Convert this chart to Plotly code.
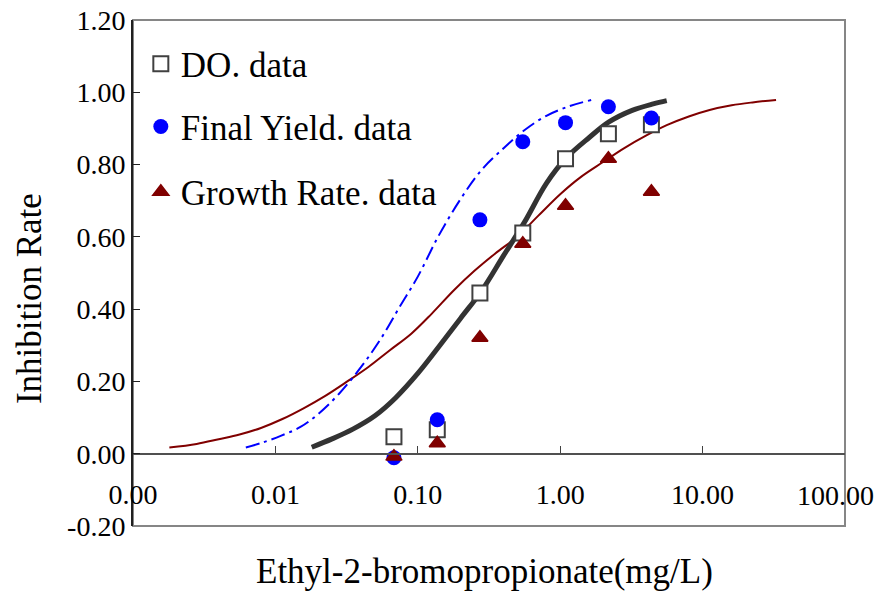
import plotly.graph_objects as go

# ---- data ----
conc = [0.068, 0.137, 0.273, 0.546, 1.09, 2.18, 4.37]
do_data = [0.047, 0.066, 0.445, 0.611, 0.816, 0.885, 0.910]
yield_data = [-0.011, 0.094, 0.647, 0.863, 0.916, 0.960, 0.929]
growth_data = [-0.008, 0.029, 0.321, 0.581, 0.686, 0.816, 0.725]

do_fit_x = [0.018, 0.025, 0.035, 0.05, 0.07, 0.1, 0.14, 0.2, 0.28, 0.4, 0.56, 0.8,
            1.1, 1.6, 2.2, 3.2, 4.5, 5.6]
do_fit_y = [0.018, 0.041, 0.068, 0.105, 0.155, 0.222, 0.295, 0.375, 0.45, 0.548, 0.64, 0.748,
            0.818, 0.875, 0.918, 0.95, 0.968, 0.977]

yield_fit_x = [0.0062, 0.008, 0.011, 0.015, 0.02, 0.028, 0.04, 0.055, 0.075, 0.1, 0.14,
               0.2, 0.28, 0.4, 0.56, 0.8, 1.15, 1.67]
yield_fit_y = [0.017, 0.03, 0.05, 0.074, 0.11, 0.166, 0.24, 0.318, 0.408, 0.49, 0.603,
               0.705, 0.785, 0.845, 0.895, 0.935, 0.961, 0.979]

growth_fit_x = [0.0018, 0.0028, 0.004, 0.0056, 0.008, 0.0112, 0.016, 0.0224, 0.032, 0.045,
                0.063, 0.09, 0.125, 0.18, 0.25, 0.35, 0.5, 0.7, 1.0, 1.4, 2.0, 2.8, 4.0,
                5.6, 8.0, 11.2, 16, 22.4, 32.8]
growth_fit_y = [0.017, 0.027, 0.040, 0.053, 0.072, 0.096, 0.127, 0.160, 0.200, 0.240,
                0.285, 0.332, 0.387, 0.453, 0.506, 0.554, 0.601, 0.658, 0.718, 0.766, 0.807,
                0.845, 0.880, 0.909, 0.933, 0.951, 0.964, 0.972, 0.979]

x_tickvals = [0.001, 0.01, 0.1, 1, 10, 100]
x_ticktext = ["0.00", "0.01", "0.10", "1.00", "10.00", ""]
x_last_label = "100.00"   # drawn shifted left so it stays inside the page, as in the reference
y_tickvals = [-0.2, 0.0, 0.2, 0.4, 0.6, 0.8, 1.0, 1.2]
y_ticktext = ["-0.20", "0.00", "0.20", "0.40", "0.60", "0.80", "1.00", "1.20"]

FONT = "Liberation Serif, Times New Roman, serif"

fig = go.Figure()

# fitted curves
fig.add_trace(go.Scatter(x=growth_fit_x, y=growth_fit_y, mode="lines", line_shape="spline",
                         line=dict(color="#800000", width=2), showlegend=False, hoverinfo="skip"))
fig.add_trace(go.Scatter(x=yield_fit_x, y=yield_fit_y, mode="lines", line_shape="spline",
                         line=dict(color="#0000FF", width=2, dash="14px,5px,3px,5px"),
                         showlegend=False, hoverinfo="skip"))
fig.add_trace(go.Scatter(x=do_fit_x, y=do_fit_y, mode="lines", line_shape="spline",
                         line=dict(color="#333333", width=5), showlegend=False, hoverinfo="skip"))

# data points
fig.add_trace(go.Scatter(x=conc, y=do_data, mode="markers", name="DO. data",
                         marker=dict(symbol="square", size=15, color="white",
                                     line=dict(color="#404040", width=2)),
                         legend="legend"))
fig.add_trace(go.Scatter(x=conc, y=yield_data, mode="markers", name="Final Yield. data",
                         marker=dict(symbol="circle", size=15, color="#0000FF",
                                     line=dict(width=0)),
                         legend="legend2"))
fig.add_trace(go.Scatter(x=conc, y=growth_data, mode="markers", name="Growth Rate. data",
                         marker=dict(symbol="triangle-up", size=14, color="#800000",
                                     line=dict(color="#800000", width=1.5)),
                         legend="legend3"))

legend_common = dict(font=dict(family=FONT, size=35, color="black"),
                     bgcolor="rgba(0,0,0,0)", xanchor="left", yanchor="middle",
                     itemsizing="trace")

fig.update_layout(
    width=880, height=593,
    margin=dict(l=133, r=35, t=20, b=67),
    paper_bgcolor="white", plot_bgcolor="white",
    font=dict(family=FONT, color="black"),
    legend=dict(x=0.011, y=0.913, **legend_common),
    legend2=dict(x=0.011, y=0.789, **legend_common),
    legend3=dict(x=0.011, y=0.660, **legend_common),
    xaxis=dict(type="log", range=[-3, 2], tickmode="array", tickvals=x_tickvals,
               ticktext=x_ticktext, ticks="inside", ticklen=7, tickwidth=1,
               tickcolor="#404040", showline=True, linecolor="#505050", linewidth=2,
               showgrid=False, zeroline=False, anchor="free", position=1 / 7,
               ticklabelstandoff=16, ticklabeloverflow="allow", automargin=False,
               tickfont=dict(family=FONT, size=28, color="black")),
    yaxis=dict(range=[-0.2, 1.2], tickmode="array", tickvals=y_tickvals,
               ticktext=y_ticktext,
               ticks="inside", ticklen=7, tickwidth=1, tickcolor="#202020",
               showline=True, linecolor="#202020", linewidth=2, showgrid=False,
               zeroline=False, automargin=False, ticklabeloverflow="allow",
               tickfont=dict(family=FONT, size=28, color="black")),
    shapes=[dict(type="rect", xref="paper", yref="paper", x0=0, x1=1, y0=0, y1=1,
                 line=dict(color="#868686", width=2), layer="below")],
    annotations=[
        dict(text=x_last_label, xref="paper", yref="paper",
             x=1.044, y=0.061, xanchor="right", yanchor="middle", showarrow=False,
             font=dict(family=FONT, size=28, color="black")),
        dict(text="Ethyl-2-bromopropionate(mg/L)", xref="paper", yref="paper",
             x=0.494, y=-0.09, xanchor="center", yanchor="middle", showarrow=False,
             font=dict(family=FONT, size=35, color="black")),
        dict(text="Inhibition Rate", xref="paper", yref="paper", textangle=-90,
             x=-0.145, y=0.45, xanchor="center", yanchor="middle", showarrow=False,
             font=dict(family=FONT, size=35, color="black")),
    ],
)

fig.write_html("out.html")
